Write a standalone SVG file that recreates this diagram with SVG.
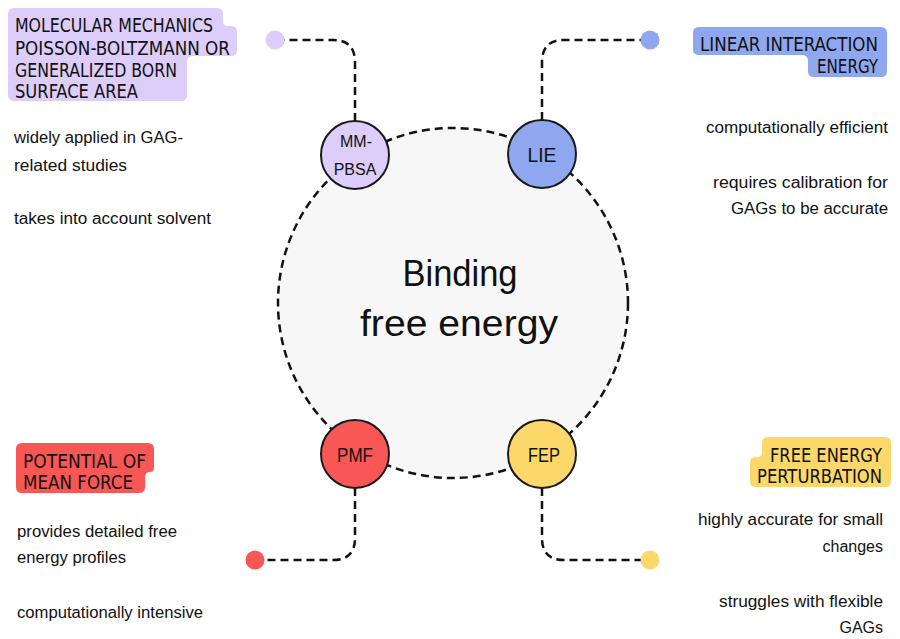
<svg xmlns="http://www.w3.org/2000/svg" width="900" height="639" viewBox="0 0 900 639">
<defs>
<style>
.conn{fill:none;stroke:#111;stroke-width:2.5;stroke-dasharray:8 5}
.node{stroke:#1a1a1a;stroke-width:2}
.lbl{font-family:"Liberation Sans Narrow","DejaVu Sans Condensed","Liberation Sans",sans-serif;font-size:19px;fill:#111}
.body{font-family:"Liberation Sans","DejaVu Sans",sans-serif;font-size:16px;fill:#111}
.ntext{font-family:"Liberation Sans","DejaVu Sans",sans-serif;fill:#111;text-anchor:middle}
</style>
</defs>
<rect width="900" height="639" fill="#ffffff"/>
<g id="center">
<circle cx="453" cy="303" r="175" fill="#f7f7f7" stroke="#111" stroke-width="2.5" stroke-dasharray="8 5"/>
<text class="ntext" x="460" y="286" font-size="36" textLength="115" lengthAdjust="spacingAndGlyphs">Binding</text>
<text class="ntext" x="459" y="336" font-size="36" textLength="198" lengthAdjust="spacingAndGlyphs">free energy</text>
</g>
<g id="connectors">
<path class="conn" d="M355,121 V62 Q355,40 333,40 H284"/>
<path class="conn" d="M542,120 V62 Q542,40 564,40 H641"/>
<path class="conn" d="M355,488 V538 Q355,560 333,560 H264"/>
<path class="conn" d="M542,488 V538 Q542,560 564,560 H641"/>
<circle cx="275" cy="40" r="9.5" fill="#dccdfa"/>
<circle cx="650" cy="40" r="9.5" fill="#8fa7ee"/>
<circle cx="255" cy="560" r="9.5" fill="#f95656"/>
<circle cx="650" cy="560" r="9.5" fill="#fcd86a"/>
</g>
<g id="mmpbsa">
<circle class="node" cx="355" cy="155" r="34" fill="#dccdfa"/>
<text class="ntext" x="356" y="147" font-size="16">MM-</text>
<text class="ntext" x="355" y="175" font-size="16">PBSA</text>
<path d="M14,8 H217 Q223,8 223,14 V22 Q223,26 228,26 H231 Q237,26 237,32 V50 Q237,56 231,56 H193 Q187,56 187,62 V95 Q187,101 181,101 H14 Q8,101 8,95 V14 Q8,8 14,8 Z" fill="#dccdfa"/>
<text class="lbl" x="15" y="32" textLength="198" lengthAdjust="spacingAndGlyphs">MOLECULAR MECHANICS</text>
<text class="lbl" x="15" y="55" textLength="215" lengthAdjust="spacingAndGlyphs">POISSON-BOLTZMANN OR</text>
<text class="lbl" x="15" y="77" textLength="162" lengthAdjust="spacingAndGlyphs">GENERALIZED BORN</text>
<text class="lbl" x="15" y="98" textLength="123" lengthAdjust="spacingAndGlyphs">SURFACE AREA</text>
<text class="body" x="14" y="143" textLength="169" lengthAdjust="spacingAndGlyphs">widely applied in GAG-</text>
<text class="body" x="14" y="171" textLength="113" lengthAdjust="spacingAndGlyphs">related studies</text>
<text class="body" x="14" y="224" textLength="197" lengthAdjust="spacingAndGlyphs">takes into account solvent</text>
</g>
<g id="lie">
<circle class="node" cx="542" cy="154" r="34" fill="#8fa7ee"/>
<text class="ntext" x="542" y="162" font-size="21" textLength="29" lengthAdjust="spacingAndGlyphs">LIE</text>
<path d="M699,27 H881 Q887,27 887,33 V71 Q887,77 881,77 H814 Q808,77 808,71 V61 Q808,55 802,55 H699 Q693,55 693,49 V33 Q693,27 699,27 Z" fill="#8fa7ee"/>
<text class="lbl" x="700" y="51" textLength="178" lengthAdjust="spacingAndGlyphs">LINEAR INTERACTION</text>
<text class="lbl" x="817" y="73" textLength="61" lengthAdjust="spacingAndGlyphs">ENERGY</text>
<text class="body" x="888" y="133" text-anchor="end" textLength="182" lengthAdjust="spacingAndGlyphs">computationally efficient</text>
<text class="body" x="888" y="188" text-anchor="end" textLength="175" lengthAdjust="spacingAndGlyphs">requires calibration for</text>
<text class="body" x="888" y="214" text-anchor="end" textLength="157" lengthAdjust="spacingAndGlyphs">GAGs to be accurate</text>
</g>
<g id="pmf">
<circle class="node" cx="355" cy="454" r="34" fill="#f95656"/>
<text class="ntext" x="355" y="462" font-size="21" textLength="36" lengthAdjust="spacingAndGlyphs">PMF</text>
<path d="M22,443 H148 Q154,443 154,449 V467 Q154,472 150,472 Q145,472 145,477 V487 Q145,493 139,493 H22 Q16,493 16,487 V449 Q16,443 22,443 Z" fill="#f95656"/>
<text class="lbl" x="23" y="468" textLength="123" lengthAdjust="spacingAndGlyphs">POTENTIAL OF</text>
<text class="lbl" x="23" y="489" textLength="110" lengthAdjust="spacingAndGlyphs">MEAN FORCE</text>
<text class="body" x="17" y="537" textLength="160" lengthAdjust="spacingAndGlyphs">provides detailed free</text>
<text class="body" x="17" y="563" textLength="109" lengthAdjust="spacingAndGlyphs">energy profiles</text>
<text class="body" x="17" y="618" textLength="186" lengthAdjust="spacingAndGlyphs">computationally intensive</text>
</g>
<g id="fep">
<circle class="node" cx="542" cy="454" r="34" fill="#fcd86a"/>
<text class="ntext" x="544" y="462" font-size="21" textLength="32" lengthAdjust="spacingAndGlyphs">FEP</text>
<path d="M768,437 H885 Q891,437 891,443 V481 Q891,487 885,487 H756 Q750,487 750,481 V463 Q750,457 756,457 H758 Q762,457 762,452 V443 Q762,437 768,437 Z" fill="#fcd86a"/>
<text class="lbl" x="770" y="462" textLength="112" lengthAdjust="spacingAndGlyphs">FREE ENERGY</text>
<text class="lbl" x="757" y="483" textLength="125" lengthAdjust="spacingAndGlyphs">PERTURBATION</text>
<text class="body" x="883" y="525" text-anchor="end" textLength="185" lengthAdjust="spacingAndGlyphs">highly accurate for small</text>
<text class="body" x="883" y="552" text-anchor="end">changes</text>
<text class="body" x="883" y="607" text-anchor="end" textLength="164" lengthAdjust="spacingAndGlyphs">struggles with flexible</text>
<text class="body" x="883" y="633" text-anchor="end">GAGs</text>
</g>
</svg>
